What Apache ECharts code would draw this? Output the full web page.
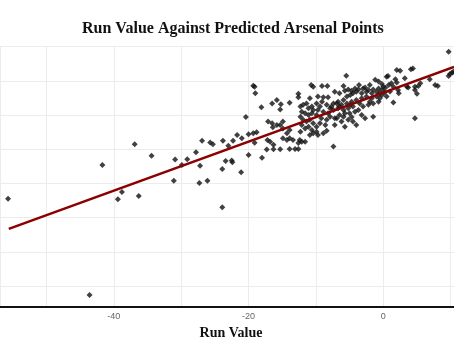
<!DOCTYPE html>
<html>
<head>
<meta charset="utf-8">
<script src="https://cdn.jsdelivr.net/npm/echarts@6/dist/echarts.min.js"></script>
<style>html,body{margin:0;padding:0;background:#fff}#c{width:454px;height:341px}</style>
</head>
<body>
<div id="c"></div>
<script>
const titleText = "Run Value Against Predicted Arsenal Points";
const xAxisName = "Run Value";
const xTickLabels = [-40, -20, 0];

const runValue = [
-55.7,-43.6,-41.7,-39.4,-38.8,-36.3,-36.9,-34.4,
-30.9,-31.1,-29.9,-29.1,-27.8,-27.2,-27.3,-26.1,-26.9,-25.7,-25.3,-23.9,-23.9,-23.8,-23.4,-22.5,-22.4,-23.0,-22.3,-21.7,
-20.4,-20.0,-21.1,-18.0,-18.1,-16.5,-15.8,-15.2,-13.9,-15.3,-17.3,-16.3,-15.3,
-19.3,-19.1,-19.0,-12.6,-12.6,-10.7,-10.4,-10.9,
-21.0,-20.0,-19.3,-18.8,-19.1,
-17.1,-16.5,-16.4,-15.8,-17.2,-16.8,-16.3,
-15.3,-14.9,-14.9,-14.3,-13.9,-14.3,-14.9,-13.9,-13.4,-13.9,-13.1,-12.6,-12.6,-12.1,-11.6,-12.4,
-12.3,-11.9,-11.4,-11.1,-10.6,-12.1,-11.6,-11.1,-10.6,-10.4,-12.3,-11.9,-11.4,-10.9,-10.4,-12.1,-11.6,-11.1,-10.6,-12.3,-10.4,-10.9,
-5.5,-9.1,-8.3,-5.9,-3.6,-2.7,-2.0,-1.2,-0.7,-0.2,0.0,
-9.7,-8.9,-8.2,
-7.4,-6.7,-5.9,-5.4,-4.9,-4.5,
-4.0,-3.2,-2.5,-1.7,-1.0,-0.5,
-9.9,-9.1,-8.4,-7.7,-6.9,-6.2,-5.4,-4.7,-4.0,-3.2,-2.5,-1.7,-1.0,-0.2,
-9.7,-8.9,-8.2,-7.4,-6.7,-5.9,-5.2,-4.5,-3.7,-3.0,-2.2,-1.5,-0.7,
-9.9,-9.2,-8.4,-9.4,-8.6,-9.9,-7.9,-7.2,-6.5,-5.7,-5.0,-4.2,-6.2,-5.2,-4.0,-1.5,
-9.7,-8.9,-8.4,-9.9,-7.4,
-7.2,-6.5,-5.7,-5.2,-4.7,-4.2,-3.7,-3.0,-2.2,-1.5,-0.7,-0.2,
-9.4,-7.9,-6.5,-4.9,-3.5,-2.0,-0.5,
-6.9,-5.9,-4.7,-7.2,-5.7,-4.5,-3.2,-2.7,
9.7,2.0,2.5,4.1,4.4,0.5,0.7,3.2,2.0,1.2,0.8,1.5,3.5,3.7,4.7,5.2,5.5,6.9,7.7,8.1,4.7,5.0,2.3,2.2,1.5,0.5,4.7,9.7,9.9,10.2,10.4,
0.3,1.0,0.2,1.8
];

const predictedPoints = [
55.5,27.4,65.4,55.4,57.5,56.3,71.5,68.1,
67.0,60.8,65.4,67.1,69.1,65.2,60.1,60.8,72.5,72.0,71.5,64.2,53.0,72.5,66.6,66.7,66.2,71.0,72.5,74.2,
79.4,68.3,63.3,67.5,82.3,83.4,84.4,83.2,83.6,81.6,69.9,70.0,70.0,
88.6,88.3,86.4,86.2,85.2,88.8,88.3,84.9,
73.2,74.4,74.7,75.0,71.9,
78.1,77.6,76.4,77.1,72.7,72.2,71.3,
77.1,78.1,76.1,74.7,75.6,72.7,73.2,73.2,72.7,70.1,70.1,70.1,71.8,72.2,72.2,72.7,
82.5,83.0,83.4,82.0,82.5,81.0,80.5,80.0,80.5,81.5,79.5,78.6,78.1,78.6,77.6,77.1,76.1,76.6,75.6,75.1,74.7,74.2,
91.5,88.5,88.5,88.5,88.8,88.1,88.8,90.3,89.8,89.1,88.3,
85.4,85.2,85.2,
83.4,83.9,84.4,85.4,85.9,86.4,
86.8,86.4,86.8,86.4,86.8,86.4,
83.4,83.9,83.0,82.5,83.4,83.0,83.4,83.9,84.4,84.9,85.4,84.9,85.4,85.9,
81.5,81.0,80.5,81.5,82.0,81.5,82.0,82.5,81.5,82.5,83.0,83.4,83.9,
80.0,79.1,78.6,77.6,77.1,76.6,79.5,79.1,80.0,80.5,80.5,81.0,78.1,78.6,77.1,79.5,
74.2,74.7,75.4,75.1,70.8,
86.8,86.4,87.1,87.5,87.1,87.8,87.5,87.8,87.3,87.5,87.8,87.3,
82.5,82.0,82.5,83.0,83.4,83.9,84.9,
79.1,79.5,79.4,77.1,76.6,78.1,80.0,79.1,
98.5,93.2,93.0,93.4,93.6,91.2,91.4,90.8,89.5,89.3,88.8,88.3,88.3,88.1,88.3,88.5,89.3,90.5,88.8,88.5,87.3,86.2,86.4,87.3,83.7,85.4,79.1,91.4,92.0,92.4,92.7,
88.0,86.9,86.6,90.5
];

const fitX = [-55.6, 10.5];
const fitY = [46.7, 94.1];

const points = runValue.map((x, i) => [x, predictedPoints[i]]);
const fitLine = fitX.map((x, i) => [x, fitY[i]]);

const chart = echarts.init(document.getElementById('c'), null, {renderer: 'canvas'});
chart.setOption({
  animation: false,
  backgroundColor: '#ffffff',
  title: {
    text: titleText,
    left: 77,
    top: 16,
    textStyle: {fontFamily: 'Liberation Serif', fontWeight: 'bold', fontSize: 16, color: '#111'}
  },
  grid: {left: 0, right: 0, top: 46.7, bottom: 34.5, containLabel: false, outerBoundsMode: 'none'},
  xAxis: {
    type: 'value',
    min: -56.9,
    max: 10.5,
    splitNumber: 7,
    name: xAxisName,
    nameLocation: 'middle',
    nameGap: 17,
    nameTextStyle: {fontFamily: 'Liberation Serif', fontWeight: 'bold', fontSize: 14, color: '#111', padding: [0, 0, 0, 8]},
    axisLine: {show: true, lineStyle: {color: '#111', width: 2}},
    axisTick: {show: false},
    axisLabel: {
      margin: 6,
      fontFamily: 'Liberation Sans',
      fontSize: 9,
      color: '#666',
      formatter: v => xTickLabels.includes(Math.round(v * 10) / 10) ? String(Math.round(v)) : ''
    },
    splitLine: {show: true, lineStyle: {color: '#ececec', width: 1}}
  },
  yAxis: {
    type: 'value',
    min: 24,
    max: 100,
    splitNumber: 8,
    axisLine: {show: false},
    axisTick: {show: false},
    axisLabel: {show: false},
    splitLine: {show: true, lineStyle: {color: '#ececec', width: 1}}
  },
  series: [
    {
      type: 'scatter',
      data: points,
      symbol: 'diamond',
      symbolSize: 6,
      itemStyle: {color: '#111111'},
      z: 2
    },
    {
      type: 'line',
      data: fitLine,
      showSymbol: false,
      symbol: 'none',
      lineStyle: {color: '#8b0000', width: 2.5},
      z: 3
    }
  ]
});
</script>
</body>
</html>
